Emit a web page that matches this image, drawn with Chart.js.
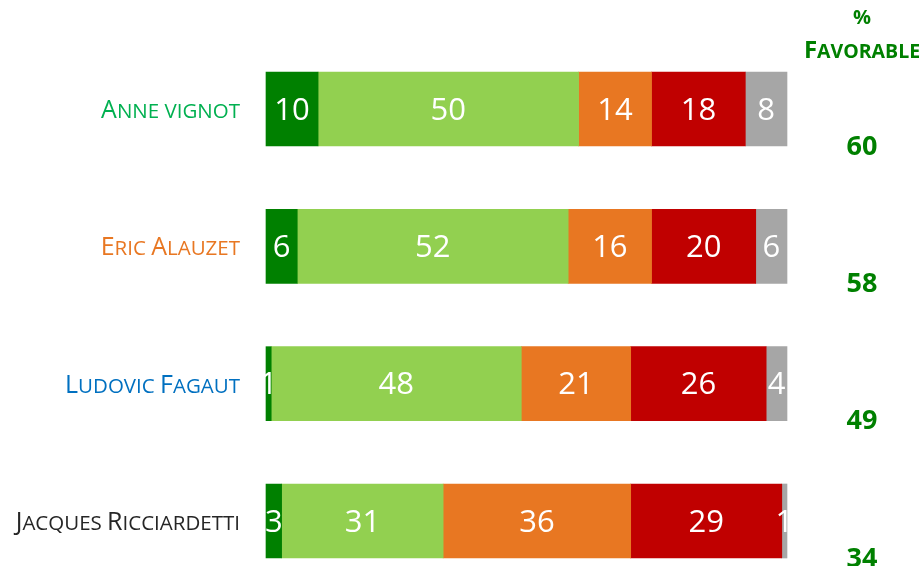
<!DOCTYPE html>
<html>
<head>
<meta charset="utf-8">
<script src="https://cdn.jsdelivr.net/npm/chart.js@4/dist/chart.umd.min.js"></script>
<style>
  html, body { margin: 0; padding: 0; background: #fff; overflow: hidden; }
  #wrap { width: 924px; height: 566px; }
</style>
</head>
<body>
<div id="wrap"><canvas id="poll"></canvas></div>
<script>
const candidates = ['Anne vignot', 'Eric Alauzet', 'Ludovic Fagaut', 'Jacques Ricciardetti'];
const candidateColors = ['#00B050', '#E87722', '#0070C0', '#262626'];

const tresFavorable = [10, 6, 1, 3];
const plutotFavorable = [50, 52, 48, 31];
const plutotDefavorable = [14, 16, 21, 36];
const tresDefavorable = [18, 20, 26, 29];
const nsp = [8, 6, 4, 1];

const favorable = [60, 58, 49, 34];

const segmentColors = ['#008000', '#92D050', '#E87722', '#C00000', '#A6A6A6'];

// petites capitales faites à la main (le canvas ne les gère pas bien)
function smallCaps(ctx, text, x, y, big, small, weight, align) {
    const parts = [];
    for (const ch of text) {
        const low = ch !== ch.toUpperCase() || ch === ' ';
        parts.push({ t: ch.toUpperCase(), size: low ? small : big });
    }
    let w = 0;
    parts.forEach(p => {
        ctx.font = weight + ' ' + p.size + 'px "Open Sans"';
        p.w = ctx.measureText(p.t).width;
        w += p.w;
    });
    let cx = align === 'right' ? x - w : align === 'center' ? x - w / 2 : x;
    ctx.textAlign = 'left';
    ctx.textBaseline = 'alphabetic';
    parts.forEach(p => {
        ctx.font = weight + ' ' + p.size + 'px "Open Sans"';
        ctx.fillText(p.t, cx, y);
        cx += p.w;
    });
}

const candidateLabels = {
    id: 'candidateLabels',
    afterDraw(chart) {
        const ctx = chart.ctx;
        const y = chart.scales.y;
        ctx.save();
        candidates.forEach((c, i) => {
            ctx.fillStyle = candidateColors[i];
            smallCaps(ctx, c, 240, y.getPixelForValue(i) + 9, 25, 20.5, 'normal', 'right');
        });
        ctx.restore();
    }
};

// étiquettes blanches au centre des segments
const segmentLabels = {
    id: 'segmentLabels',
    afterDatasetsDraw(chart) {
        const ctx = chart.ctx;
        ctx.save();
        ctx.fillStyle = '#fff';
        ctx.font = '31px "Open Sans"';
        ctx.textAlign = 'center';
        ctx.textBaseline = 'middle';
        chart.data.datasets.forEach((ds, i) => {
            chart.getDatasetMeta(i).data.forEach((bar, j) => {
                let x = (bar.base + bar.x) / 2;
                ctx.fillText(ds.data[j], x, bar.y + 2);
            });
        });
        ctx.restore();
    }
};

// colonne "% favorable" à droite
const favorableColumn = {
    id: 'favorableColumn',
    afterDraw(chart) {
        const ctx = chart.ctx;
        const y = chart.scales.y;
        const cx = 862;
        ctx.save();
        ctx.fillStyle = '#008000';
        ctx.textAlign = 'center';
        ctx.textBaseline = 'middle';
        ctx.font = 'bold 20px "Open Sans"';
        ctx.fillText('%', cx, 18);
        smallCaps(ctx, 'Favorable', cx, 58, 24, 19.5, 'bold', 'center');
        ctx.font = 'bold 27px "Open Sans"';
        ctx.textAlign = 'center';
        ctx.textBaseline = 'middle';
        favorable.forEach((v, i) => {
            ctx.fillText(v, cx, y.getPixelForValue(i) + 38);
        });
        ctx.restore();
    }
};

const series = [tresFavorable, plutotFavorable, plutotDefavorable, tresDefavorable, nsp];

new Chart(document.getElementById('poll'), {
    type: 'bar',
    data: {
        labels: candidates,
        datasets: series.map((d, i) => ({
            data: d,
            backgroundColor: segmentColors[i],
            borderWidth: 0,
            barThickness: 74,
            clip: false
        }))
    },
    options: {
        indexAxis: 'y',
        responsive: true,
        maintainAspectRatio: false,
        animation: false,
        layout: { padding: { top: 109, bottom: 45, right: 137, left: 266 } },
        plugins: {
            legend: { display: false },
            tooltip: { enabled: false }
        },
        scales: {
            x: {
                stacked: true,
                min: 0,
                max: 100,
                display: false
            },
            y: {
                stacked: true,
                offset: false,
                display: false
            }
        }
    },
    plugins: [segmentLabels, candidateLabels, favorableColumn]
});
</script>
</body>
</html>
